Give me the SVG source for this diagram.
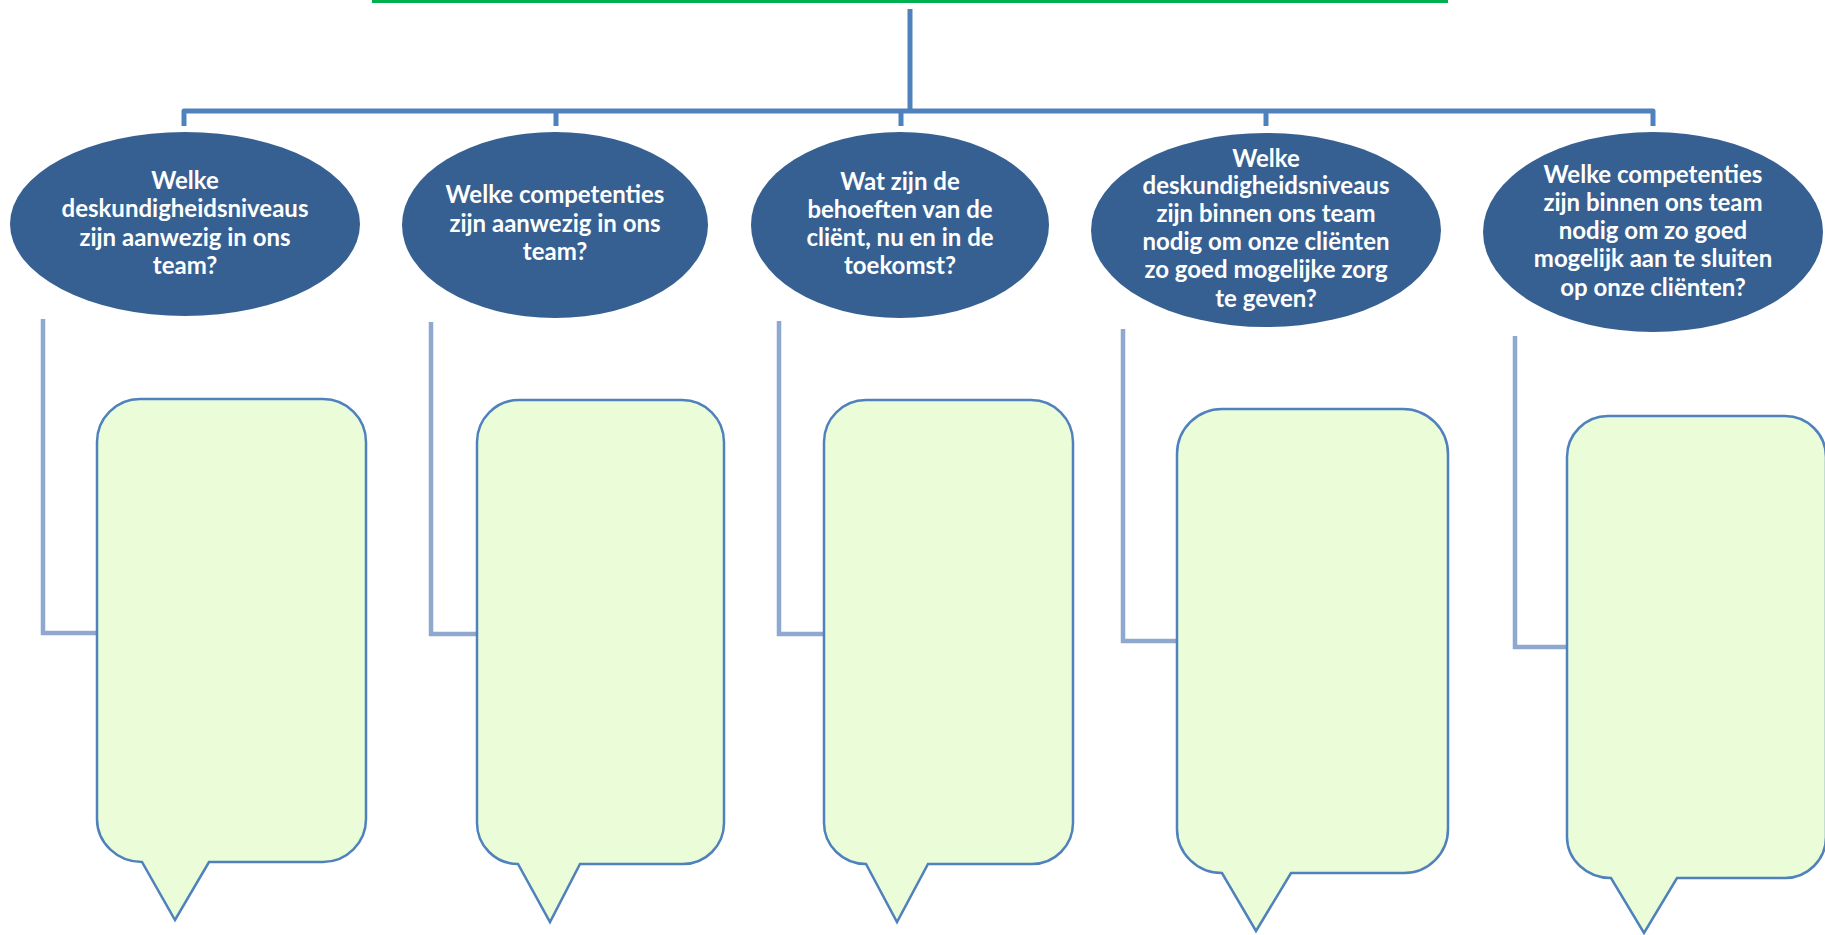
<svg xmlns="http://www.w3.org/2000/svg" width="1825" height="935" viewBox="0 0 1825 935">
<style>
.bar{fill:none;stroke:#4F81BD;stroke-width:5;stroke-linejoin:round}
.con{fill:none;stroke:#8EA8D0;stroke-width:4.5;stroke-linejoin:miter}
.q{fill:#376092}
.t{fill:#FFFFFF;font-family:Lato,"Liberation Sans",sans-serif;font-weight:700;font-size:24px;text-anchor:middle}
.box{fill:#EBFCD8;stroke:#4F81BD;stroke-width:2.5;stroke-linejoin:miter}
</style>
<rect x="0" y="0" width="1825" height="935" fill="#FFFFFF"/>
<rect id="top-bar" x="372" y="0" width="1076" height="3" fill="#00B050"/>
<g id="connectors">
<path class="bar" d="M910 9 V111 M184 126 V111 H1653 V126 M556 111 V126 M901 111 V126 M1266 111 V126"/>
<path class="con" d="M43 319 V633 H97"/>
<path class="con" d="M431 322 V634 H477"/>
<path class="con" d="M779 321 V634 H824"/>
<path class="con" d="M1123 329 V641 H1177"/>
<path class="con" d="M1515 336 V647 H1567"/>
</g>
<g id="q1"><ellipse class="q" cx="185" cy="224" rx="175" ry="92"/>
<text class="t" x="185" y="189">Welke</text><text class="t" x="185" y="217">deskundigheidsniveaus</text><text class="t" x="185" y="246">zijn aanwezig in ons</text><text class="t" x="185" y="274">team?</text></g>
<g id="q2"><ellipse class="q" cx="555" cy="225" rx="153" ry="93"/>
<text class="t" x="555" y="203">Welke competenties</text><text class="t" x="555" y="232">zijn aanwezig in ons</text><text class="t" x="555" y="260">team?</text></g>
<g id="q3"><ellipse class="q" cx="900" cy="225" rx="149" ry="93"/>
<text class="t" x="900" y="190">Wat zijn de</text><text class="t" x="900" y="218">behoeften van de</text><text class="t" x="900" y="246">cliënt, nu en in de</text><text class="t" x="900" y="274">toekomst?</text></g>
<g id="q4"><ellipse class="q" cx="1266" cy="230" rx="175" ry="97"/>
<text class="t" x="1266" y="167">Welke</text><text class="t" x="1266" y="194">deskundigheidsniveaus</text><text class="t" x="1266" y="222">zijn binnen ons team</text><text class="t" x="1266" y="250">nodig om onze cliënten</text><text class="t" x="1266" y="278">zo goed mogelijke zorg</text><text class="t" x="1266" y="307">te geven?</text></g>
<g id="q5"><ellipse class="q" cx="1653" cy="232" rx="170" ry="100"/>
<text class="t" x="1653" y="183">Welke competenties</text><text class="t" x="1653" y="211">zijn binnen ons team</text><text class="t" x="1653" y="239">nodig om zo goed</text><text class="t" x="1653" y="267">mogelijk aan te sluiten</text><text class="t" x="1653" y="296">op onze cliënten?</text></g>
<g id="b1"><path class="box" d="M140 399 H323 A43 43 0 0 1 366 442 V819 A43 43 0 0 1 323 862 H209 L175 920 L142 862 A45 43 0 0 1 97 819 V442 A43 43 0 0 1 140 399 Z"/></g>
<g id="b2"><path class="box" d="M519 400 H682 A42 42 0 0 1 724 442 V823 A41 41 0 0 1 683 864 H580 L550 922 L518 864 A41 41 0 0 1 477 823 V442 A42 42 0 0 1 519 400 Z"/></g>
<g id="b3"><path class="box" d="M866 400 H1031 A42 42 0 0 1 1073 442 V823 A41 41 0 0 1 1032 864 H928 L897 922 L866 864 A42 41 0 0 1 824 823 V442 A42 42 0 0 1 866 400 Z"/></g>
<g id="b4"><path class="box" d="M1222 409 H1403 A45 45 0 0 1 1448 454 V829 A44 44 0 0 1 1404 873 H1291 L1256 931 L1222 873 A45 44 0 0 1 1177 829 V454 A45 45 0 0 1 1222 409 Z"/></g>
<g id="b5"><path class="box" d="M1608 416 H1785 A41 41 0 0 1 1826 457 V837 A41 41 0 0 1 1785 878 H1677 L1644 933 L1611 878 A44 41 0 0 1 1567 837 V457 A41 41 0 0 1 1608 416 Z"/></g>
</svg>
